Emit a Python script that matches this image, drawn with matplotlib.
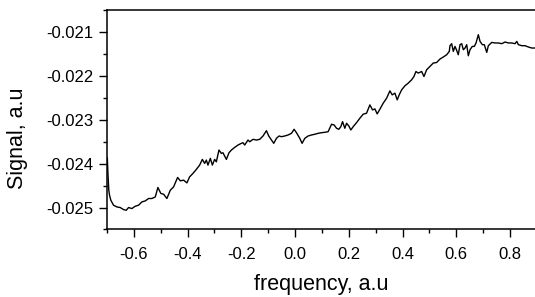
import matplotlib
matplotlib.use("Agg")
import matplotlib.pyplot as plt
from matplotlib.ticker import MultipleLocator, FormatStrFormatter

plt.rcParams['font.family'] = ['Liberation Sans', 'DejaVu Sans']

# frequency (a.u) and signal (a.u)
freq = [
    -0.6988, -0.6962, -0.6933, -0.6906, -0.6858, -0.6757, -0.6634, -0.6508, -0.6385, -0.6284,
    -0.6198, -0.6075, -0.5948, -0.5826, -0.5702, -0.5576, -0.5453, -0.5330, -0.5203, -0.5106,
    -0.4994, -0.4894, -0.4771, -0.4644, -0.4521, -0.4372, -0.4271, -0.4148, -0.4025, -0.3925,
    -0.3802,
    -0.3675, -0.3552, -0.3451, -0.3366, -0.3302, -0.3243, -0.3153, -0.3079, -0.2993, -0.2930,
    -0.2833, -0.2743, -0.2684, -0.2557, -0.2460, -0.2370, -0.2247, -0.2124, -0.1998, -0.1938,
    -0.1875, -0.1752, -0.1688, -0.1565, -0.1439, -0.1316, -0.1193, -0.1066, -0.0980, -0.0880,
    -0.0794, -0.0693, -0.0596,
    -0.0507, -0.0384, -0.0261, -0.0134, -0.0037, 0.0052, 0.0175, 0.0261, 0.0362, 0.0485,
    0.0611, 0.0734, 0.0857, 0.0984, 0.1107, 0.1230, 0.1357, 0.1454, 0.1543, 0.1629,
    0.1703, 0.1767, 0.1852, 0.1916, 0.2001, 0.2076, 0.2162, 0.2288, 0.2411, 0.2534,
    0.2661, 0.2784, 0.2885, 0.2971, 0.3056, 0.3157, 0.3280, 0.3407, 0.3530, 0.3615,
    0.3716, 0.3802, 0.3876, 0.3966, 0.4089, 0.4212, 0.4338, 0.4424, 0.4499, 0.4584,
    0.4711, 0.4797, 0.4897, 0.5020, 0.5143, 0.5270, 0.5393, 0.5516, 0.5643, 0.5740,
    0.5766, 0.5829, 0.5889, 0.5952, 0.6016, 0.6075, 0.6139, 0.6202, 0.6262, 0.6325,
    0.6388, 0.6448, 0.6511, 0.6597, 0.6672, 0.6735, 0.6821, 0.6884, 0.6970, 0.7044,
    0.7134, 0.7193, 0.7320, 0.7443, 0.7566, 0.7693, 0.7816, 0.7939, 0.8066, 0.8188,
    0.8252, 0.8311, 0.8438, 0.8561, 0.8684, 0.8811, 0.8908,
]
signal = [
    -0.023873, -0.024262, -0.024605, -0.024719, -0.024833, -0.024947, -0.024986, -0.025000, -0.025046, -0.025062,
    -0.025000, -0.025023, -0.024970, -0.024947, -0.024872, -0.024849, -0.024794, -0.024794, -0.024758, -0.024543,
    -0.024680, -0.024696, -0.024794, -0.024605, -0.024529, -0.024314, -0.024392, -0.024376, -0.024438, -0.024301,
    -0.024223,
    -0.024131, -0.024033, -0.023903, -0.023994, -0.023919, -0.024033, -0.023880, -0.024033, -0.023903, -0.023958,
    -0.023690, -0.023766, -0.023752, -0.023903, -0.023752, -0.023690, -0.023629, -0.023576, -0.023537, -0.023523,
    -0.023576, -0.023462, -0.023501, -0.023446, -0.023462, -0.023446, -0.023370, -0.023249, -0.023370, -0.023462,
    -0.023537, -0.023423, -0.023370,
    -0.023386, -0.023370, -0.023347, -0.023309, -0.023217, -0.023295, -0.023423, -0.023537, -0.023423, -0.023370,
    -0.023347, -0.023331, -0.023309, -0.023295, -0.023286, -0.023272, -0.023103, -0.023119, -0.023194, -0.023217,
    -0.023158, -0.023043, -0.023194, -0.023080, -0.023142, -0.023233, -0.023158, -0.023066, -0.022966, -0.022874,
    -0.022851, -0.022662, -0.022776, -0.022753, -0.022867, -0.022760, -0.022623, -0.022509, -0.022342, -0.022433,
    -0.022394, -0.022547, -0.022433, -0.022319, -0.022227, -0.022166, -0.022090, -0.022015, -0.021901, -0.021937,
    -0.021901, -0.022015, -0.021862, -0.021786, -0.021709, -0.021695, -0.021617, -0.021571, -0.021519, -0.021443,
    -0.021313, -0.021267, -0.021443, -0.021329, -0.021421, -0.021519, -0.021290, -0.021267, -0.021405, -0.021366,
    -0.021290, -0.021542, -0.021405, -0.021329, -0.021329, -0.021251, -0.021062, -0.021215, -0.021290, -0.021290,
    -0.021466, -0.021313, -0.021238, -0.021251, -0.021251, -0.021267, -0.021229, -0.021251, -0.021251, -0.021267,
    -0.021215, -0.021290, -0.021313, -0.021313, -0.021343, -0.021366, -0.021366,
]

fig = plt.figure(figsize=(5.35, 2.97), dpi=100)
ax = fig.add_axes([0.2, 0.2273, 0.8, 0.739])

ax.plot(freq, signal, color='black', linewidth=1.0)

ax.set_xlim(-0.70, 0.893)
ax.set_ylim(-0.0255, -0.0205)

ax.xaxis.set_major_locator(MultipleLocator(0.2))
ax.xaxis.set_minor_locator(MultipleLocator(0.1))
ax.xaxis.set_major_formatter(FormatStrFormatter('%.1f'))
ax.yaxis.set_major_locator(MultipleLocator(0.001))
ax.yaxis.set_minor_locator(MultipleLocator(0.0005))
ax.yaxis.set_major_formatter(FormatStrFormatter('%.3f'))

ax.tick_params(which='major', direction='out', length=5.5, width=1.0, labelsize=12)
ax.tick_params(which='minor', direction='out', length=3, width=1.0)
ax.tick_params(axis='x', which='major', pad=7)
ax.tick_params(axis='y', which='major', pad=4.5)
ax.tick_params(top=False, right=False, which='both')

for side in ['left', 'bottom', 'top']:
    ax.spines[side].set_linewidth(1.1)
ax.spines['right'].set_visible(False)

ax.set_xlabel('frequency, a.u', fontsize=15.5)
ax.set_ylabel('Signal, a.u', fontsize=15.5)
ax.xaxis.set_label_coords(0.5, -0.205)
ax.yaxis.set_label_coords(-0.185, 0.415)

fig.savefig('out.png', dpi=100)
